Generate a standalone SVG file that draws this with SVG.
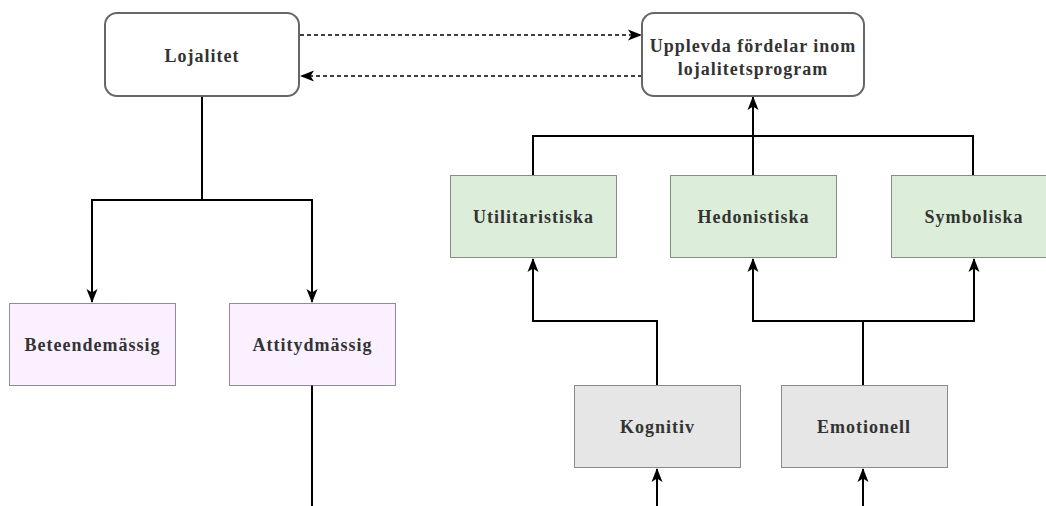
<svg xmlns="http://www.w3.org/2000/svg" width="1046" height="506" viewBox="0 0 1046 506">
<defs>
<style>
.rbox{fill:#fff;stroke:#666;stroke-width:2}
.dbox{stroke:#222;stroke-width:1;stroke-dasharray:1 1}
.pink{fill:#FAF0FF}
.green{fill:#DCEEDA}
.grey{fill:#E6E6E6}
.t{font-family:"Liberation Serif","Times New Roman",serif;font-weight:bold;font-size:18px;letter-spacing:1px;fill:#333;text-anchor:middle}
.c{fill:none;stroke:#000;stroke-width:2}
.d{fill:none;stroke:#000;stroke-width:1.5;stroke-dasharray:4 3}
</style>
<marker id="ah" viewBox="0 0 14 14" refX="13" refY="7" markerWidth="14" markerHeight="14" markerUnits="userSpaceOnUse" orient="auto">
<path d="M0,1.5 L14,7 L0,12.5 L3.5,7 Z" fill="#000"/>
</marker>
</defs>
<rect width="1046" height="506" fill="#fff"/>
<g id="connectors">
<path class="d" d="M300,35 H641" marker-end="url(#ah)"/>
<path class="d" d="M642,76 H301" marker-end="url(#ah)"/>
<path class="c" d="M202,96 V200 H92 V302" marker-end="url(#ah)"/>
<path class="c" d="M202,200 H312 V302" marker-end="url(#ah)"/>
<path class="c" d="M312,385 V506"/>
<path class="c" d="M753,175 V97" marker-end="url(#ah)"/>
<path class="c" d="M533,175 V136 H973 V175"/>
<path class="c" d="M657,385 V321 H533 V259" marker-end="url(#ah)"/>
<path class="c" d="M863,385 V321 H753 V259" marker-end="url(#ah)"/>
<path class="c" d="M863,321 H974 V259" marker-end="url(#ah)"/>
<path class="c" d="M657,506 V469" marker-end="url(#ah)"/>
<path class="c" d="M863,506 V469" marker-end="url(#ah)"/>
</g>
<g id="lojalitet">
<rect class="rbox" x="105" y="13" width="194" height="83" rx="12"/>
<text class="t" x="202" y="62">Lojalitet</text>
</g>
<g id="upplevda">
<rect class="rbox" x="642" y="13" width="222" height="83" rx="12"/>
<text class="t" x="753" y="52">Upplevda fördelar inom</text>
<text class="t" x="753" y="75">lojalitetsprogram</text>
</g>
<g id="beteende">
<rect class="dbox pink" x="9.5" y="303.5" width="166" height="82"/>
<text class="t" x="92.5" y="351">Beteendemässig</text>
</g>
<g id="attityd">
<rect class="dbox pink" x="229.5" y="303.5" width="166" height="82"/>
<text class="t" x="312.5" y="351">Attitydmässig</text>
</g>
<g id="utilitaristiska">
<rect class="dbox green" x="450.5" y="175.5" width="166" height="82"/>
<text class="t" x="533.5" y="223">Utilitaristiska</text>
</g>
<g id="hedonistiska">
<rect class="dbox green" x="670.5" y="175.5" width="166" height="82"/>
<text class="t" x="753.5" y="223">Hedonistiska</text>
</g>
<g id="symboliska">
<rect class="dbox green" x="891.5" y="175.5" width="166" height="82"/>
<text class="t" x="974" y="223">Symboliska</text>
</g>
<g id="kognitiv">
<rect class="dbox grey" x="574.5" y="385.5" width="166" height="82"/>
<text class="t" x="657.5" y="433">Kognitiv</text>
</g>
<g id="emotionell">
<rect class="dbox grey" x="781.5" y="385.5" width="166" height="82"/>
<text class="t" x="864" y="433">Emotionell</text>
</g>
</svg>
